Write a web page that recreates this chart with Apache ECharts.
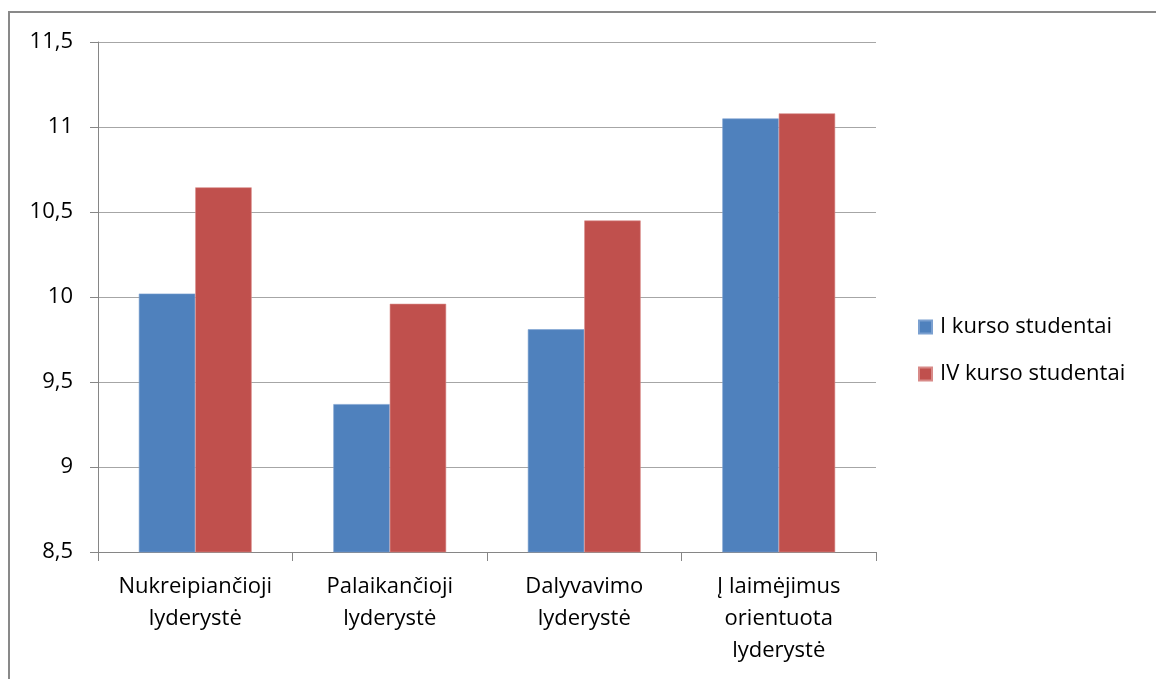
<!DOCTYPE html>
<html>
<head>
<meta charset="utf-8">
<script src="https://cdn.jsdelivr.net/npm/echarts@6/dist/echarts.min.js"></script>
<style>
  html, body { margin: 0; padding: 0; background: #fff; }
  #chart { width: 1156px; height: 679px; }
</style>
</head>
<body>
<div id="chart"></div>
<script>
// duomenys
const categories = [
  'Nukreipiančioji\nlyderystė',
  'Palaikančioji\nlyderystė',
  'Dalyvavimo\nlyderystė',
  'Į laimėjimus\norientuota\nlyderystė'
];
const seriesNames = ['I kurso studentai', 'IV kurso studentai'];
const firstYear = [10.02, 9.37, 9.81, 11.05];
const fourthYear = [10.645, 9.96, 10.45, 11.08];

const font = 'Open Sans';

var myChart = echarts.init(document.getElementById('chart'));
let option = {
  color: ['#4f81bd', '#c0504d'],
  textStyle: { fontFamily: font },
  graphic: [{
    type: 'rect',
    shape: { x: 9, y: 12, width: 1170, height: 700 },
    style: { fill: 'none', stroke: '#898989', lineWidth: 2 },
    silent: true
  }],
  grid: { left: 98, top: 42, right: 280, bottom: 127 },
  legend: {
    orient: 'vertical',
    left: 918,
    top: 316,
    padding: 0,
    itemWidth: 13,
    itemHeight: 13,
    itemGap: 25,
    icon: 'rect',
    textStyle: { fontSize: 22, color: '#000', fontFamily: font, padding: [0, 0, 0, 3] },
    data: seriesNames
  },
  xAxis: {
    type: 'category',
    data: categories,
    axisLine: { lineStyle: { color: '#868686', width: 1 } },
    axisTick: { show: true, length: 9, alignWithLabel: false, lineStyle: { color: '#868686' } },
    axisLabel: { color: '#000', fontSize: 22, lineHeight: 32, margin: 19, fontFamily: font, interval: 0 }
  },
  yAxis: {
    type: 'value',
    min: 8.5,
    max: 11.5,
    interval: 0.5,
    axisLine: { show: true, lineStyle: { color: '#868686' } },
    axisTick: { show: true, length: 8, lineStyle: { color: '#868686' } },
    splitLine: { lineStyle: { color: '#a6a6a6', width: 1 } },
    axisLabel: {
      color: '#000', fontSize: 22, margin: 25, fontFamily: font,
      formatter: v => String(v).replace('.', ',')
    }
  },
  series: [
    {
      name: seriesNames[0], type: 'bar', data: firstYear,
      barGap: '0%', barCategoryGap: '42%',
      itemStyle: { borderColor: '#7ba0d0', borderWidth: 0.6 }
    },
    {
      name: seriesNames[1], type: 'bar', data: fourthYear,
      barGap: '0%', barCategoryGap: '42%',
      itemStyle: { borderColor: '#d88a88', borderWidth: 0.6 }
    }
  ]
};
myChart.setOption(option);
</script>
</body>
</html>
